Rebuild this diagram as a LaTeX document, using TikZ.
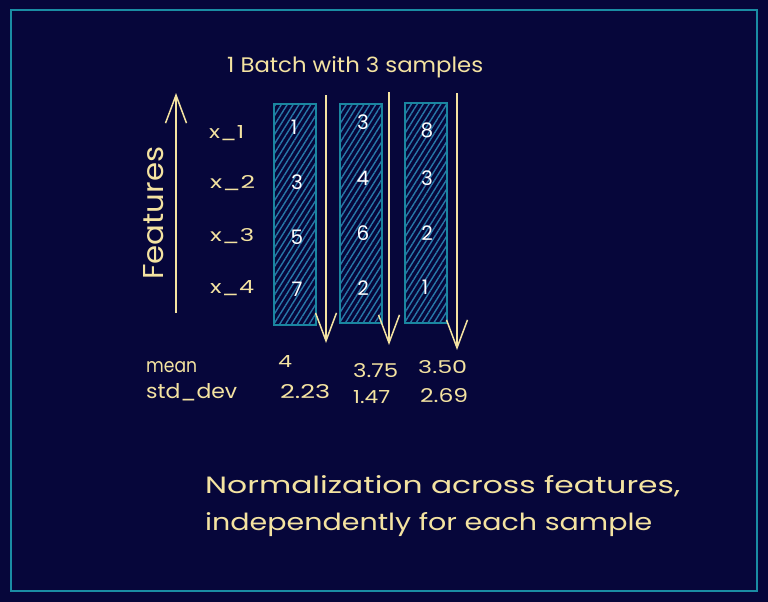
\documentclass[tikz,border=0pt]{standalone}
\usepackage{fontspec}
\setmainfont{Poppins}
\usetikzlibrary{arrows.meta,patterns.meta}
\definecolor{bg}{HTML}{06063A}
\definecolor{framec}{HTML}{1A8CA3}
\definecolor{ink}{HTML}{F4E3A1}
\definecolor{boxc}{HTML}{1A86A0}
\definecolor{hatchc}{HTML}{2878A8}
\newcommand\fitwh[3]{\resizebox{#1pt}{#2pt}{#3}}
\begin{document}
\begin{tikzpicture}[x=1pt,y=-1pt,
  txt/.style={text=ink, inner sep=0pt, anchor=base west, font=\fontsize{16}{18}\selectfont},
  num/.style={text=white, inner sep=0pt, font=\fontsize{20}{22}\selectfont},
  col/.style={draw=boxc, line width=1.5pt, minimum width=42pt, inner sep=0pt,
    pattern={Lines[angle=58,distance=5pt,line width=1.4pt]}, pattern color=hatchc},
  sarrow/.style={draw=ink, line width=1.5pt, -{Straight Barb[length=28pt,width=21pt,line width=1.5pt]}},
]
\fill[bg] (0,0) rectangle (768,602);
\useasboundingbox (0,0) rectangle (768,602);
\draw[framec, line width=2.5pt] (11,10) rectangle (757,591);

\node[txt] (title) at (227,73) {\fitwh{256}{16}{1 Batch with 3 samples}};

% feature axis
\coordinate (fs) at (176,313);
\coordinate (fe) at (176,93);
\draw[sarrow] (fs) -- (fe);
\node[txt, rotate=90] (feat) at (163,280) {\fitwh{133}{20}{Features}};

% columns
\node[col, minimum height=221pt] (b1) at (295,214.5) {};
\node[col, minimum height=219pt] (b2) at (361,213.5) {};
\node[col, minimum height=220pt] (b3) at (426,213) {};

% arrows
\coordinate (a1s) at (326,95);  \coordinate (a1e) at (326,343);
\coordinate (a2s) at (389,92);  \coordinate (a2e) at (389,345);
\coordinate (a3s) at (457,93);  \coordinate (a3e) at (457,350);
\draw[sarrow] (a1s) -- (a1e);
\draw[sarrow] (a2s) -- (a2e);
\draw[sarrow] (a3s) -- (a3e);

% feature labels
\node[txt] (x1) at (209,139) {\fitwh{35}{13}{x\_1}};
\node[txt] (x2) at (210,188) {\fitwh{45}{13}{x\_2}};
\node[txt] (x3) at (210,241) {\fitwh{44}{13}{x\_3}};
\node[txt] (x4) at (210,293) {\fitwh{44}{13}{x\_4}};

% numbers
\node[num] (n11) at (294,127) {1};
\node[num] (n12) at (297,182) {3};
\node[num] (n13) at (297,237) {5};
\node[num] (n14) at (297,289) {7};
\node[num] (n21) at (363,122) {3};
\node[num] (n22) at (363,178) {4};
\node[num] (n23) at (363,233) {6};
\node[num] (n24) at (363,288) {2};
\node[num] (n31) at (427,130) {8};
\node[num] (n32) at (427,178) {3};
\node[num] (n33) at (427,233) {2};
\node[num] (n34) at (425,287) {1};

% stats
\node[txt] (mean) at (146,372) {\fitwh{51}{11}{mean}};
\node[txt] (std) at (146,398) {\fitwh{91}{15}{std\_dev}};
\node[txt] (m1) at (278,367) {\fitwh{14}{12}{4}};
\node[txt] (s1) at (280,398) {\fitwh{50}{14}{2.23}};
\node[txt] (m2) at (353,377) {\fitwh{45}{14}{3.75}};
\node[txt] (s2) at (353,403) {\fitwh{37}{13}{1.47}};
\node[txt] (m3) at (418,373) {\fitwh{49}{13}{3.50}};
\node[txt] (s3) at (420,402) {\fitwh{48}{14}{2.69}};

% caption
\node[txt] (cap1) at (205,493) {\fitwh{475}{18}{Normalization across features,}};
\node[txt] (cap2) at (205,530) {\fitwh{447}{18}{independently for each sample}};
\end{tikzpicture}
\end{document}
